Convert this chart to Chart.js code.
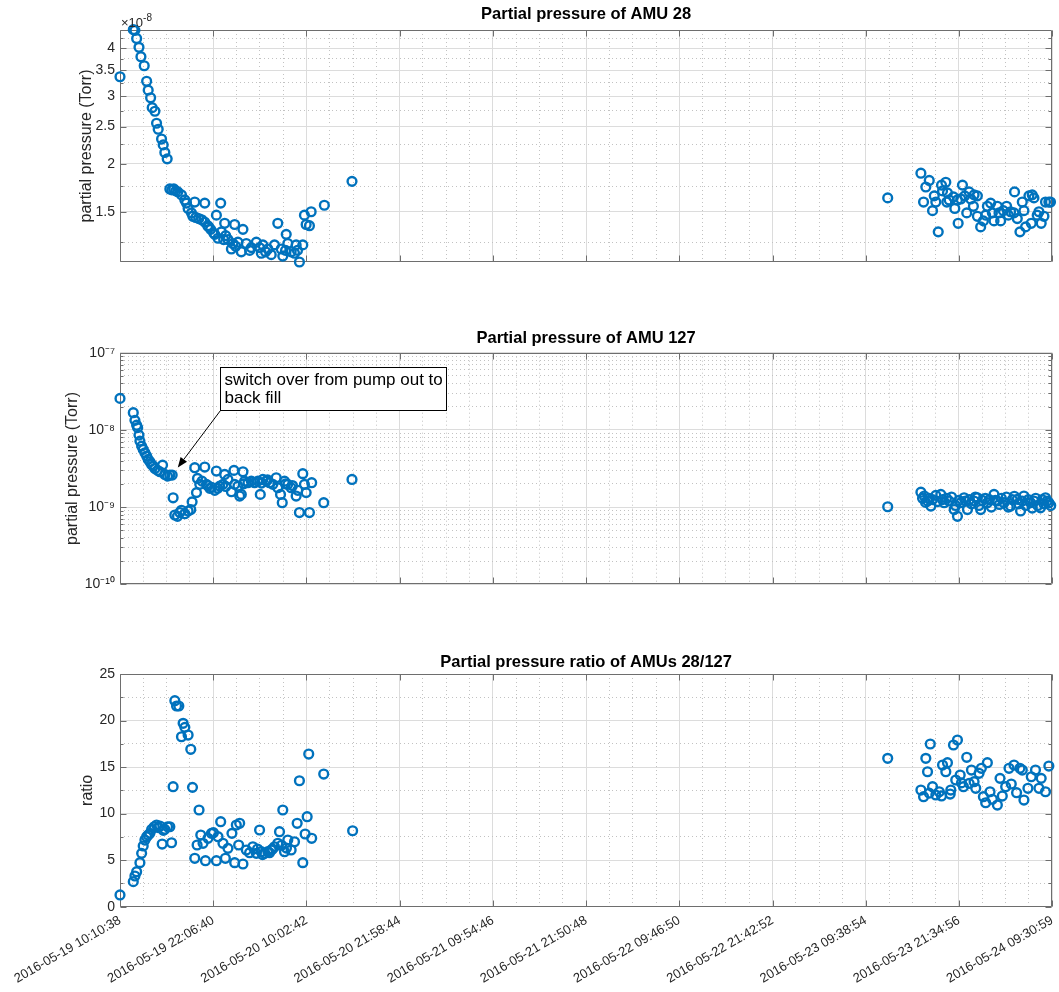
<!DOCTYPE html>
<html>
<head>
<meta charset="utf-8">
<script src="https://cdn.jsdelivr.net/npm/chart.js@4/dist/chart.umd.min.js"></script>
<style>
  body { margin: 0; background: #fff; }
  #wrap { position: relative; width: 1059px; height: 992px; background: #fff; }
  canvas { position: absolute; left: 0; }
</style>
</head>
<body>
<div id="wrap">
  <canvas id="c1" width="1059" height="270" style="top:0px"></canvas>
  <canvas id="c2" width="1059" height="300" style="top:300px"></canvas>
  <canvas id="c3" width="1059" height="392" style="top:600px"></canvas>
</div>
<script>
// x axis: hours since 2016-05-19 10:10:38
const xTickLabels = ['2016-05-19 10:10:38', '2016-05-19 22:06:40', '2016-05-20 10:02:42', '2016-05-20 21:58:44',
  '2016-05-21 09:54:46', '2016-05-21 21:50:48', '2016-05-22 09:46:50', '2016-05-22 21:42:52',
  '2016-05-23 09:38:54', '2016-05-23 21:34:56', '2016-05-24 09:30:59'];

// AMU 28 partial pressure, units of 1e-8 Torr
const amu28Hours = [0, 1.70, 1.91, 2.13, 2.43, 2.68, 3.10, 3.41, 3.61, 3.92, 4.12, 4.47, 4.68, 4.89, 5.32, 5.53, 5.74, 6.04,
  6.38, 6.64, 6.89, 7.15, 7.40, 7.87, 8.30, 8.51, 8.72, 9.15, 9.32, 9.57, 9.70, 10.08, 10.47, 10.85, 10.85, 11.23, 11.36,
  11.61, 12.00, 12.13, 12.34, 12.55, 12.89, 12.98, 13.27, 13.40, 13.53, 13.82, 14.26, 14.46, 14.68, 14.81, 15.10, 15.53,
  15.74, 16.17, 16.60, 16.81, 17.45, 17.87, 18.09, 18.29, 18.63, 18.93, 19.36, 19.78, 20.20, 20.64, 20.84, 21.19, 21.28,
  21.48, 21.91, 22.34, 22.55, 22.72, 22.97, 23.40, 23.61, 23.83, 24.25, 24.47, 26.16, 29.70,
  98.28, 102.53, 102.87, 103.16, 103.60, 104.02, 104.24, 104.44, 104.75, 105.17, 105.30, 105.72, 105.85, 105.93, 106.15,
  106.70, 106.87, 107.21, 107.30, 107.63, 107.85, 108.14, 108.40, 108.71, 108.91, 109.25, 109.34, 109.76, 109.76, 110.18,
  110.53, 110.82, 111.04, 111.46, 111.68, 111.89, 112.32, 112.53, 112.74, 113.08, 113.50, 113.72, 114.01, 114.45, 114.52,
  114.87, 115.21, 115.51, 115.72, 115.93, 116.36, 116.66, 116.78, 117.00, 117.42, 117.64, 117.93, 118.28, 118.48, 118.91, 119.12];
const amu28Values = [3.37, 4.47, 4.45, 4.24, 4.02, 3.80, 3.60, 3.28, 3.11, 2.97, 2.80, 2.74, 2.55, 2.46, 2.32, 2.24, 2.14, 2.06,
  1.72, 1.71, 1.72, 1.70, 1.69, 1.66, 1.61, 1.58, 1.53, 1.49, 1.46, 1.59, 1.45, 1.44, 1.43, 1.58, 1.41, 1.38, 1.37,
  1.35, 1.32, 1.31, 1.47, 1.28, 1.58, 1.33, 1.27, 1.40, 1.30, 1.27, 1.20, 1.24, 1.39, 1.22, 1.25, 1.18,
  1.35, 1.24, 1.19, 1.21, 1.25, 1.21, 1.17, 1.23, 1.18, 1.20, 1.16, 1.23, 1.40, 1.20, 1.15, 1.19, 1.31,
  1.24, 1.18, 1.17, 1.23, 1.19, 1.11, 1.23, 1.47, 1.39, 1.38, 1.50, 1.56, 1.80,
  1.63, 1.89, 1.59, 1.74, 1.81, 1.51, 1.65, 1.59, 1.33, 1.76, 1.70, 1.79, 1.59, 1.68, 1.61,
  1.64, 1.53, 1.61, 1.40, 1.62, 1.76, 1.65, 1.49, 1.69, 1.62, 1.55, 1.66, 1.65, 1.46, 1.37,
  1.42, 1.47, 1.55, 1.58, 1.49, 1.42, 1.55, 1.49, 1.42, 1.51, 1.55, 1.47, 1.50, 1.49, 1.69,
  1.44, 1.33, 1.59, 1.51, 1.37, 1.65, 1.40, 1.66, 1.63, 1.47, 1.50, 1.40, 1.46, 1.59, 1.59, 1.59];

// AMU 127 partial pressure, units of 1e-9 Torr
const amu127Hours = [0, 1.70, 1.91, 2.13, 2.26, 2.43, 2.55, 2.77, 2.97, 3.19, 3.41, 3.61, 3.83, 4.05, 4.25, 4.47, 4.81, 5.11,
  5.45, 5.74, 6.09, 6.38, 6.68, 6.80, 7.02, 7.36, 7.66, 7.87, 8.30, 8.72, 9.06, 9.23, 9.57, 9.79, 9.92, 10.21, 10.50,
  10.85, 11.07, 11.23, 11.49, 11.74, 12.13, 12.34, 12.51, 12.76, 13.18, 13.40, 13.53, 13.82, 14.26, 14.59, 14.68, 15.10,
  15.32, 15.53, 15.74, 15.83, 15.95, 16.38, 16.81, 17.23, 17.65, 17.96, 18.12, 18.29, 18.72, 18.89, 19.14, 19.57, 20.00,
  20.20, 20.55, 20.77, 21.06, 21.19, 21.48, 21.91, 22.08, 22.55, 22.76, 22.97, 23.40, 23.61, 23.83, 24.25, 24.54, 26.08, 29.70,
  98.28, 102.53, 102.74, 102.96, 103.13, 103.38, 103.57, 103.81, 104.02, 104.44, 104.66, 105.08, 105.30, 105.51, 105.81,
  106.15, 106.45, 106.79, 106.96, 107.21, 107.40, 107.63, 108.06, 108.23, 108.49, 108.74, 109.00, 109.34, 109.51, 109.76,
  109.96, 110.18, 110.40, 110.78, 111.04, 111.30, 111.55, 111.89, 112.06, 112.32, 112.57, 112.83, 113.17, 113.47, 113.72,
  114.01, 114.23, 114.49, 114.87, 115.06, 115.29, 115.51, 115.72, 115.95, 116.27, 116.57, 116.78, 117.00, 117.23, 117.49,
  117.84, 118.06, 118.28, 118.48, 118.70, 118.91, 119.15];
const amu127Values = [25.6, 16.7, 13.3, 11.5, 10.7, 8.56, 7.16, 6.17, 5.59, 5.06, 4.58, 4.15, 3.87, 3.57, 3.40, 3.17, 2.99, 2.87,
  3.50, 2.65, 2.52, 2.60, 2.60, 1.32, 0.79, 0.76, 0.85, 0.91, 0.82, 0.89, 0.93, 1.17, 3.24, 1.54, 2.35, 1.97, 2.17,
  3.30, 1.97, 1.90, 1.75, 1.80, 1.65, 2.93, 1.75, 1.87, 1.97, 2.65, 1.85, 2.28, 1.58, 2.99, 1.97, 1.87,
  1.39, 1.46, 2.87, 2.00, 2.17, 2.07, 2.17, 2.07, 2.17, 1.46, 2.05, 2.28, 2.17, 2.25, 2.07, 1.97, 2.40,
  1.78, 1.46, 1.14, 2.17, 2.00, 1.97, 1.78, 1.90, 1.39, 1.65, 0.85, 2.71, 1.97, 1.54, 0.85, 2.07, 1.14, 2.28,
  1.01, 1.56, 1.30, 1.39, 1.15, 1.20, 1.30, 1.03, 1.25, 1.42, 1.18, 1.46, 1.25, 1.14, 1.30,
  1.20, 1.35, 0.93, 1.05, 0.76, 1.22, 1.14, 1.32, 1.20, 0.93, 1.25, 1.10, 1.20, 1.35, 1.32,
  1.05, 0.93, 1.22, 1.30, 1.14, 1.25, 1.00, 1.46, 1.22, 1.20, 1.08, 1.30, 1.14, 1.35, 1.00,
  1.03, 1.25, 1.38, 1.26, 1.10, 0.89, 1.20, 1.39, 1.05, 1.25, 1.14, 0.97, 1.20, 1.30, 1.05,
  0.98, 1.25, 1.10, 1.32, 1.20, 1.14, 1.05];

// ratio AMU 28 / AMU 127
const ratioHours = [0, 1.70, 1.91, 2.13, 2.55, 2.77, 2.97, 3.19, 3.41, 3.61, 3.83, 4.05, 4.38, 4.68, 4.89, 5.11, 5.40, 5.55,
  5.74, 6.09, 6.38, 6.60, 6.80, 7.02, 7.24, 7.53, 7.87, 8.08, 8.30, 8.72, 9.06, 9.28, 9.57, 9.87, 10.12, 10.34, 10.63,
  10.94, 11.27, 11.70, 11.96, 12.34, 12.55, 12.89, 13.18, 13.49, 13.82, 14.33, 14.68, 14.89, 15.19, 15.32, 15.74, 16.17,
  16.59, 17.01, 17.45, 17.61, 17.87, 18.09, 18.25, 18.51, 18.93, 19.14, 19.36, 19.53, 19.78, 20.20, 20.42, 20.68, 20.84,
  21.06, 21.31, 21.48, 21.91, 22.34, 22.68, 22.97, 23.40, 23.70, 23.96, 24.16, 24.54, 26.08, 29.78,
  98.28, 102.53, 102.87, 103.16, 103.38, 103.60, 103.73, 104.02, 104.44, 104.88, 105.17, 105.30, 105.72, 105.93, 106.28,
  106.36, 106.70, 106.99, 107.21, 107.56, 107.72, 107.98, 108.40, 108.71, 109.00, 109.34, 109.55, 109.98, 110.27, 110.53,
  110.82, 111.04, 111.38, 111.68, 112.32, 112.66, 112.95, 113.38, 113.81, 114.10, 114.45, 114.78, 115.21, 115.51, 115.72,
  116.23, 116.66, 117.20, 117.64, 117.93, 118.48, 118.91];
const ratioValues = [1.26, 2.69, 3.30, 3.76, 4.73, 5.73, 6.52, 7.16, 7.52, 7.70, 7.88, 8.31, 8.59, 8.78, 8.50, 8.67, 6.73, 8.20,
  8.31, 8.59, 8.59, 6.87, 12.89, 22.13, 21.56, 21.56, 18.26, 19.70, 19.27, 18.44, 16.91, 12.82, 5.20, 6.63, 10.39, 7.70, 6.81,
  4.94, 7.35, 7.88, 7.95, 4.94, 7.52, 9.13, 6.81, 5.20, 6.27, 7.88, 4.73, 8.78, 6.63, 8.96, 4.59, 6.09,
  5.80, 6.44, 5.73, 6.20, 8.24, 5.91, 5.60, 5.73, 5.91, 5.80, 6.09, 6.20, 6.44, 6.81, 8.06, 6.60, 10.39,
  5.91, 6.30, 7.16, 6.09, 6.98, 8.96, 13.53, 4.73, 7.81, 9.67, 16.40, 7.35, 14.25, 8.16,
  15.94, 12.53, 11.82, 15.94, 14.50, 12.20, 17.48, 12.89, 12.00, 12.35, 11.90, 15.22, 14.50, 15.47, 12.10,
  12.53, 17.37, 13.61, 17.91, 14.15, 13.30, 12.89, 16.05, 13.25, 14.68, 13.43, 12.72, 14.33, 14.87, 11.82,
  11.17, 15.47, 12.35, 11.54, 10.92, 13.79, 11.89, 12.89, 14.87, 13.18, 15.22, 12.25, 14.87, 14.68, 11.46,
  12.72, 13.96, 14.68, 12.72, 13.79, 12.35, 15.11];

// y tick marks
const amu28TickValues = [1.5, 2, 2.5, 3, 3.5, 4];
const amu28TickLabels = ['1.5', '2', '2.5', '3', '3.5', '4'];
const amu28MinorValues = [1.25, 1.75, 2.25, 2.75, 3.25, 3.75, 4.25];
const amu127TickValues = [1e-10, 1e-9, 1e-8, 1e-7];
const amu127TickLabels = ['10\u207B\u00B9\u2070', '10\u207B\u2079', '10\u207B\u2078', '10\u207B\u2077'];
const ratioTickValues = [0, 5, 10, 15, 20, 25];
const ratioTickLabels = ['0', '5', '10', '15', '20', '25'];
const ratioMinorValues = [2.5, 7.5, 12.5, 17.5, 22.5];

const noteLines = ['switch over from pump out to', 'back fill'];
const noteBoxAt = { x: 12.76, y: 6.45e-8 };
const noteTip = { x: 7.4, y: 3.27e-9 };

const axisColor = '#6e6e6e';
const textColor = '#262626';
const markerColor = '#0072BD';
const fontFamily = "'Liberation Sans', Arial, Helvetica, sans-serif";

Chart.defaults.font.family = fontFamily;
Chart.defaults.color = textColor;

const t0 = Date.parse(xTickLabels[0].replace(' ', 'T') + 'Z');
const xTickHours = xTickLabels.map(s => (Date.parse(s.replace(' ', 'T') + 'Z') - t0) / 3600000);

function xTicks() {
  const out = [];
  xTickHours.forEach((h, i) => {
    out.push({ value: h, major: true });
    if (i < xTickHours.length - 1) {
      const step = (xTickHours[i + 1] - h) / 4;
      for (let k = 1; k < 4; k++) out.push({ value: h + k * step, major: false });
    }
  });
  return out;
}

const gridColor = c => (c.tick && c.tick.major) ? '#dcdcdc' : '#c2c2c2';
const gridDash = c => (c.tick && c.tick.major) ? [] : [1, 3];

function xScale(showLabels, height) {
  return {
    type: 'linear',
    min: 0,
    max: xTickHours[xTickHours.length - 1],
    afterBuildTicks: s => { s.ticks = xTicks(); },
    grid: { color: gridColor, drawTicks: false },
    border: { display: false, dash: gridDash },
    ticks: {
      display: showLabels, autoSkip: false, minRotation: 30, maxRotation: 30,
      padding: 6, font: { size: 13 },
      callback: (v, i, t) => t[i].major ? xTickLabels[xTickHours.indexOf(v)] : ''
    },
    afterFit: s => { s.height = height; s.paddingLeft = 0; s.paddingRight = 0; }
  };
}

function yScale(o) {
  return {
    type: o.type, min: o.min, max: o.max, bounds: 'data',
    afterBuildTicks: s => { s.ticks = o.ticks(); },
    grid: { color: gridColor, drawTicks: false },
    border: { display: false, dash: gridDash },
    ticks: {
      autoSkip: false, padding: 5, font: { size: 14 },
      callback: (v, i, t) => t[i].major ? t[i].text : ''
    },
    title: { display: true, text: o.title, color: textColor, font: { size: 16 }, padding: { top: o.titlePad, bottom: 0 } },
    afterFit: s => { s.width = 120; s.paddingTop = 0; s.paddingBottom = 0; }
  };
}

const axesBox = {
  id: 'axesBox',
  beforeDatasetsDraw(chart) {
    const { ctx, chartArea: a, scales: { x, y } } = chart;
    const L = Math.round(a.left) + 0.5, R = Math.round(a.right) - 0.5;
    const T = Math.round(a.top) + 0.5, B = Math.round(a.bottom) - 0.5;
    ctx.save();
    ctx.strokeStyle = axisColor;
    ctx.lineWidth = 1;
    ctx.beginPath();
    ctx.rect(L, T, R - L, B - T);
    x.ticks.forEach(t => {
      if (!t.major) return;
      const px = Math.round(x.getPixelForValue(t.value)) + 0.5;
      ctx.moveTo(px, B); ctx.lineTo(px, B - 6);
      ctx.moveTo(px, T); ctx.lineTo(px, T + 6);
    });
    y.ticks.forEach(t => {
      const len = t.major ? 6 : 3;
      const py = Math.round(y.getPixelForValue(t.value)) + 0.5;
      ctx.moveTo(L, py); ctx.lineTo(L + len, py);
      ctx.moveTo(R, py); ctx.lineTo(R - len, py);
    });
    ctx.stroke();
    ctx.restore();
  }
};

const exponentLabel = {
  id: 'exponentLabel',
  afterDraw(chart) {
    const { ctx, chartArea: a } = chart;
    ctx.save();
    ctx.fillStyle = textColor;
    ctx.textAlign = 'left';
    ctx.textBaseline = 'alphabetic';
    ctx.font = '13px ' + fontFamily;
    const base = '\u00D710';
    ctx.fillText(base, a.left + 1, a.top - 3);
    const w = ctx.measureText(base).width;
    ctx.font = '10px ' + fontFamily;
    ctx.fillText('-8', a.left + 1 + w, a.top - 9);
    ctx.restore();
  }
};

const annotation = {
  id: 'annotation',
  afterDraw(chart) {
    const { ctx, scales: { x, y } } = chart;
    const bx = Math.round(x.getPixelForValue(noteBoxAt.x)) + 0.5;
    const by = Math.round(y.getPixelForValue(noteBoxAt.y)) + 0.5;
    ctx.save();
    ctx.font = '17px ' + fontFamily;
    const w = Math.round(Math.max(...noteLines.map(s => ctx.measureText(s).width)) + 8);
    const lh = 18;
    const h = noteLines.length * lh + 7;
    ctx.fillStyle = '#fff';
    ctx.fillRect(bx, by, w, h);
    ctx.strokeStyle = '#000';
    ctx.lineWidth = 1;
    ctx.strokeRect(bx, by, w, h);
    ctx.fillStyle = '#000';
    ctx.textBaseline = 'middle';
    noteLines.forEach((s, i) => ctx.fillText(s, bx + 4, by + 4 + lh / 2 + i * lh));
    const tx = x.getPixelForValue(noteTip.x), ty = y.getPixelForValue(noteTip.y);
    const sx = bx, sy = by + h;
    const ang = Math.atan2(ty - sy, tx - sx);
    const head = 10, half = 4;
    const hx = tx - head * Math.cos(ang), hy = ty - head * Math.sin(ang);
    ctx.beginPath(); ctx.moveTo(sx, sy); ctx.lineTo(hx, hy); ctx.stroke();
    ctx.beginPath();
    ctx.moveTo(tx, ty);
    ctx.lineTo(hx + half * Math.sin(ang), hy - half * Math.cos(ang));
    ctx.lineTo(hx - half * Math.sin(ang), hy + half * Math.cos(ang));
    ctx.closePath();
    ctx.fill();
    ctx.restore();
  }
};

function points(hours, vals, unit) {
  return hours.map((h, i) => ({ x: h, y: vals[i] * unit }));
}

function makeChart(id, c) {
  return new Chart(document.getElementById(id), {
    type: 'scatter',
    data: {
      datasets: [{
        data: c.data, borderColor: markerColor, backgroundColor: 'rgba(0,0,0,0)',
        borderWidth: 2.4, pointRadius: 4.4, pointHoverRadius: 4.4, clip: false
      }]
    },
    options: {
      responsive: false, animation: false, events: [],
      layout: { padding: { left: 0, right: 4, top: 0, bottom: c.padBottom } },
      plugins: {
        legend: { display: false },
        tooltip: { enabled: false },
        title: {
          display: true, text: c.title, fullSize: false, color: '#000',
          font: { size: 16.5, weight: 'bold' }, padding: { top: c.titleTop, bottom: c.titleBottom }
        }
      },
      scales: { x: xScale(c.xLabels, c.xHeight), y: yScale(c.y) }
    },
    plugins: [axesBox].concat(c.extra || [])
  });
}

makeChart('c1', {
  title: 'Partial pressure of AMU 28',
  data: points(amu28Hours, amu28Values, 1e-8),
  titleTop: 4.1, titleBottom: 6.1, padBottom: 8, xLabels: false, xHeight: 0,
  y: {
    type: 'logarithmic', min: 1.11e-8, max: 4.46e-8, title: 'partial pressure (Torr)', titlePad: 77,
    ticks: () => amu28TickValues.map((v, i) => ({ value: v * 1e-8, major: true, text: amu28TickLabels[i] }))
      .concat(amu28MinorValues.map(v => ({ value: v * 1e-8, major: false })))
      .sort((p, q) => p.value - q.value)
  },
  extra: [exponentLabel]
});

makeChart('c2', {
  title: 'Partial pressure of AMU 127',
  data: points(amu127Hours, amu127Values, 1e-9),
  titleTop: 28.1, titleBottom: 4.8, padBottom: 15.7, xLabels: false, xHeight: 0,
  y: {
    type: 'logarithmic', min: 1e-10, max: 1e-7, title: 'partial pressure (Torr)', titlePad: 63,
    ticks: () => {
      const out = [];
      amu127TickValues.forEach((d, i) => {
        out.push({ value: d, major: true, text: amu127TickLabels[i] });
        if (i < amu127TickValues.length - 1) {
          for (let k = 2; k <= 9; k++) out.push({ value: k * d, major: false });
        }
      });
      return out;
    }
  },
  extra: [annotation]
});

makeChart('c3', {
  title: 'Partial pressure ratio of AMUs 28/127',
  data: points(ratioHours, ratioValues, 1),
  titleTop: 52.1, titleBottom: 2.1, padBottom: 0, xLabels: true, xHeight: 85.3,
  y: {
    type: 'linear', min: 0, max: 25, title: 'ratio', titlePad: 78,
    ticks: () => ratioTickValues.map((v, i) => ({ value: v, major: true, text: ratioTickLabels[i] }))
      .concat(ratioMinorValues.map(v => ({ value: v, major: false })))
      .sort((p, q) => p.value - q.value)
  }
});
</script>
</body>
</html>
